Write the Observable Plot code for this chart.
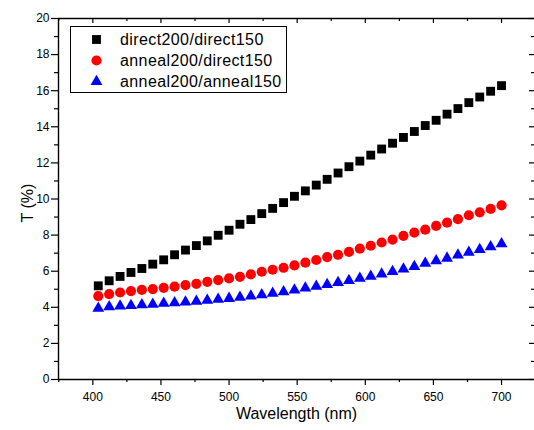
<!DOCTYPE html>
<html>
<head>
<meta charset="utf-8">
<script src="https://cdn.jsdelivr.net/npm/d3@7"></script>
<script src="https://cdn.jsdelivr.net/npm/@observablehq/plot@0.6"></script>
<style>
  html, body { margin: 0; padding: 0; background: #fff; }
  #chart svg { display: block; }
</style>
</head>
<body>
<div id="chart"></div>
<script>
// ---- data ----
const wavelength = [404,412,420,428,436,444,452,460,468,476,484,492,500,508,516,524,532,540,548,556,564,572,580,588,596,604,612,620,628,636,644,652,660,668,676,684,692,700];
const direct200_direct150 = [5.19,5.47,5.71,5.93,6.15,6.39,6.63,6.91,7.17,7.42,7.68,7.99,8.27,8.60,8.86,9.19,9.48,9.80,10.15,10.45,10.77,11.09,11.44,11.79,12.10,12.43,12.77,13.09,13.41,13.74,14.07,14.36,14.70,15.01,15.34,15.65,15.97,16.28];
const anneal200_direct150 = [4.62,4.73,4.82,4.90,4.96,5.01,5.08,5.14,5.23,5.30,5.41,5.51,5.60,5.69,5.82,5.97,6.08,6.19,6.32,6.47,6.62,6.78,6.91,7.07,7.25,7.41,7.59,7.75,7.96,8.14,8.30,8.51,8.69,8.88,9.10,9.26,9.45,9.65];
const anneal200_anneal150 = [3.94,4.03,4.07,4.10,4.14,4.17,4.22,4.25,4.29,4.33,4.38,4.44,4.49,4.55,4.62,4.69,4.77,4.86,4.96,5.07,5.16,5.26,5.37,5.48,5.60,5.71,5.84,5.98,6.12,6.26,6.43,6.57,6.72,6.89,7.05,7.20,7.35,7.51];
const seriesNames = ["direct200/direct150", "anneal200/direct150", "anneal200/anneal150"];
const xMajor = [400,450,500,550,600,650,700];
const xMinor = [375,425,475,525,575,625,675,725];
const yMajor = [0,2,4,6,8,10,12,14,16,18,20];
const yMinor = [1,3,5,7,9,11,13,15,17,19];
const xLabel = "Wavelength (nm)";
const yLabel = "T (%)";

// ---- layout / style ----
const W = 534, H = 430;
const mL = 58, mR = 0, mT = 18, mB = 51;
const innerW = W - mL - mR, innerH = H - mT - mB;
const xDomain = [374.8, 724.2];
const yDomain = [0, 20];
const FONT = "'Liberation Sans', Arial, Helvetica, sans-serif";
const styles = [
  {symbol: "square", fill: "#000000", r: 5},
  {symbol: "circle", fill: "#ff0000", r: 5.1},
  {symbol: "triangle", fill: "#0000ff", r: 4.4}
];
const seriesValues = [direct200_direct150, anneal200_direct150, anneal200_anneal150];
const tables = seriesValues.map(vals => wavelength.map((w, i) => ({w, v: vals[i]})));

const svg = Plot.plot({
  width: W, height: H,
  marginLeft: mL, marginRight: mR, marginTop: mT, marginBottom: mB,
  style: {fontFamily: FONT, background: "#fff", color: "#000"},
  x: {domain: xDomain},
  y: {domain: yDomain},
  marks: [
    // frame (left, top, bottom)
    Plot.ruleX([xDomain[0]], {stroke: "#000", strokeWidth: 1.4}),
    Plot.ruleY(yDomain, {stroke: "#000", strokeWidth: 1.4}),
    // axes
    Plot.axisX(xMajor, {tickSize: 6, tickPadding: 7, fontSize: 12, label: null, strokeWidth: 1.2}),
    Plot.axisX(xMinor.filter(d => d < xDomain[1]), {tickSize: 3, tickFormat: () => "", label: null, strokeWidth: 1.2}),
    Plot.axisY(yMajor, {tickSize: 7, tickPadding: 2, fontSize: 12, label: null, strokeWidth: 1.2}),
    Plot.axisY(yMinor, {tickSize: 4, tickFormat: () => "", label: null, strokeWidth: 1.2}),
    // inward ticks on top and right
    Plot.tickX(xMajor, {x: d => d, insetBottom: innerH - 5, stroke: "#000", strokeWidth: 1.2}),
    Plot.tickX(xMinor.filter(d => d < xDomain[1]), {x: d => d, insetBottom: innerH - 3, stroke: "#000", strokeWidth: 1.2}),
    Plot.tickY(yMajor, {y: d => d, insetLeft: innerW - 5, stroke: "#000", strokeWidth: 1.2}),
    Plot.tickY(yMinor, {y: d => d, insetLeft: innerW - 3, stroke: "#000", strokeWidth: 1.2}),
    // axis titles
    Plot.text([xLabel], {frameAnchor: "bottom", dy: 34, fontSize: 16, lineAnchor: "middle", textAnchor: "middle", text: d => d, fill: "#000"}),
    Plot.text([yLabel], {frameAnchor: "left", dx: -31, dy: 4, rotate: -90, fontSize: 16, lineAnchor: "middle", textAnchor: "middle", text: d => d, fill: "#000"}),
    // data
    ...tables.map((t, k) => Plot.dot(t, {x: "w", y: "v", symbol: styles[k].symbol, r: styles[k].r, fill: styles[k].fill, stroke: "none"}))
  ]
});

// legend box inside plot
const g = d3.select(svg).append("g").attr("font-family", FONT).attr("text-anchor", "start");
g.append("rect").attr("x", 70.5).attr("y", 26.5).attr("width", 216).attr("height", 66)
  .attr("fill", "#fff").attr("stroke", "#000").attr("stroke-width", 1);
const rowY = [39.5, 60.5, 81.5];
const symMap = {square: d3.symbolSquare, circle: d3.symbolCircle, triangle: d3.symbolTriangle};
seriesNames.forEach((name, k) => {
  const st = styles[k];
  g.append("path")
    .attr("transform", `translate(96.5,${rowY[k]})`)
    .attr("d", d3.symbol(symMap[st.symbol], Math.PI * st.r * st.r)())
    .attr("fill", st.fill);
  g.append("text").attr("x", 120).attr("y", rowY[k]).attr("dy", "0.35em")
    .attr("text-anchor", "start")
    .attr("font-size", 16).attr("letter-spacing", "0.4px").attr("fill", "#000").text(name);
});

document.getElementById("chart").appendChild(svg);
</script>
</body>
</html>
